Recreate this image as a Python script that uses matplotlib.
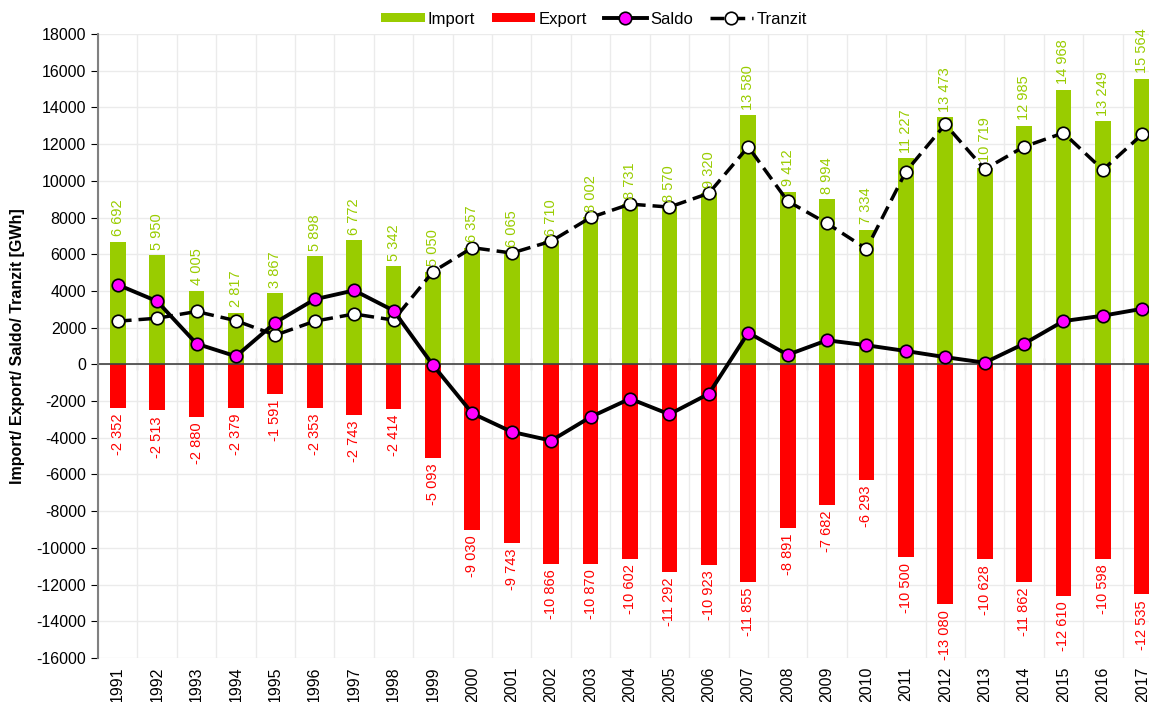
import numpy as np
import matplotlib
matplotlib.use("Agg")
import matplotlib.pyplot as plt

plt.rcParams['font.family'] = ['Liberation Sans', 'DejaVu Sans']
plt.rcParams['axes.unicode_minus'] = False

# data (GWh)
years = [str(y) for y in range(1991, 2018)]
imports = [6692, 5950, 4005, 2817, 3867, 5898, 6772, 5342, 5050, 6357, 6065, 6710,
           8002, 8731, 8570, 9320, 13580, 9412, 8994, 7334, 11227, 13473, 10719,
           12985, 14968, 13249, 15564]
exports = [-2352, -2513, -2880, -2379, -1591, -2353, -2743, -2414, -5093, -9030,
           -9743, -10866, -10870, -10602, -11292, -10923, -11855, -8891, -7682,
           -6293, -10500, -13080, -10628, -11862, -12610, -10598, -12535]
saldo = [4340, 3437, 1125, 438, 2276, 3545, 4029, 2928, -43, -2673, -3678, -4156,
         -2868, -1871, -2722, -1603, 1725, 521, 1312, 1041, 727, 393, 91, 1123,
         2358, 2651, 3029]
tranzit = [2352, 2513, 2880, 2379, 1591, 2353, 2743, 2414, 5050, 6357, 6065, 6710,
           8002, 8731, 8570, 9320, 11855, 8891, 7682, 6293, 10500, 13080, 10628,
           11862, 12610, 10598, 12535]

GREEN = '#99CC00'
RED = '#FF0000'

def fmt(v):
    return f"{v:,}".replace(",", " ")

fig = plt.figure(figsize=(11.49, 7.02), dpi=100)
ax = fig.add_axes([98 / 1149, 44 / 702, 1064 / 1149, 624 / 702])

x = np.arange(len(years))
b1 = ax.bar(x, imports, width=0.4, color=GREEN, label='Import', zorder=2)
b2 = ax.bar(x, exports, width=0.4, color=RED, label='Export', zorder=2)
l2, = ax.plot(x, tranzit, color='black', lw=2.5, ls=(0, (4, 2)), marker='o', ms=9,
              mfc='white', mec='black', mew=1.2, label='Tranzit', zorder=3)
l1, = ax.plot(x, saldo, color='black', lw=2.8, marker='o', ms=9, mfc='#FF00FF',
              mec='black', mew=1.2, label='Saldo', zorder=4)

for xi, v in zip(x, imports):
    ax.annotate(fmt(v), (xi, v), xytext=(0, 4), textcoords='offset points',
                rotation=90, ha='center', va='bottom', color=GREEN, fontsize=10.5)
for xi, v in zip(x, exports):
    ax.annotate(fmt(v), (xi, v), xytext=(0, -4), textcoords='offset points',
                rotation=90, ha='center', va='top', color=RED, fontsize=10.5)

ax.set_xlim(-0.5, len(years) - 0.5)
ax.set_ylim(-16000, 18000)
ax.set_yticks(np.arange(-16000, 18001, 2000))
ax.tick_params(axis='y', labelsize=11.5, direction='out', length=5, color='black')
ax.set_xticks(x)
ax.set_xticklabels(years, rotation=90, fontsize=11.5)
ax.tick_params(axis='x', length=0, pad=6)
ax.set_xticks(np.arange(-0.5, len(years), 1), minor=True)
ax.tick_params(axis='x', which='minor', length=0)

ax.grid(True, which='major', axis='y', color='#EBEBEB', lw=1, zorder=0)
ax.grid(True, which='minor', axis='x', color='#EBEBEB', lw=1, zorder=0)
ax.set_axisbelow(True)

for s in ['top', 'right', 'bottom']:
    ax.spines[s].set_visible(False)
ax.spines['left'].set_color('#808080')
ax.spines['left'].set_linewidth(1.5)

# zero axis with ticks at category boundaries
ax.axhline(0, color='#404040', lw=1.2, zorder=2.5)
sec = ax.secondary_xaxis(16000 / 34000)
sec.set_xticks(np.arange(0.5, len(years) - 0.5, 1))
sec.tick_params(direction='inout', length=8, labelbottom=False, labeltop=False,
                color='#404040')
sec.spines['bottom'].set_visible(False)
sec.spines['top'].set_visible(False)

ax.set_ylabel('Import/ Export/ Saldo/ Tranzit [GWh]', fontsize=11.5,
              fontweight='bold', labelpad=8)

ax.legend([b1, b2, l1, l2], ['Import', 'Export', 'Saldo', 'Tranzit'],
          loc='center', bbox_to_anchor=((594 - 98) / 1064, (702 - 19 - 44) / 624),
          ncol=4, frameon=False, fontsize=12, handlelength=2.6, handleheight=0.5,
          columnspacing=1.0, handletextpad=0.2)

fig.savefig('out.png', dpi=100)
